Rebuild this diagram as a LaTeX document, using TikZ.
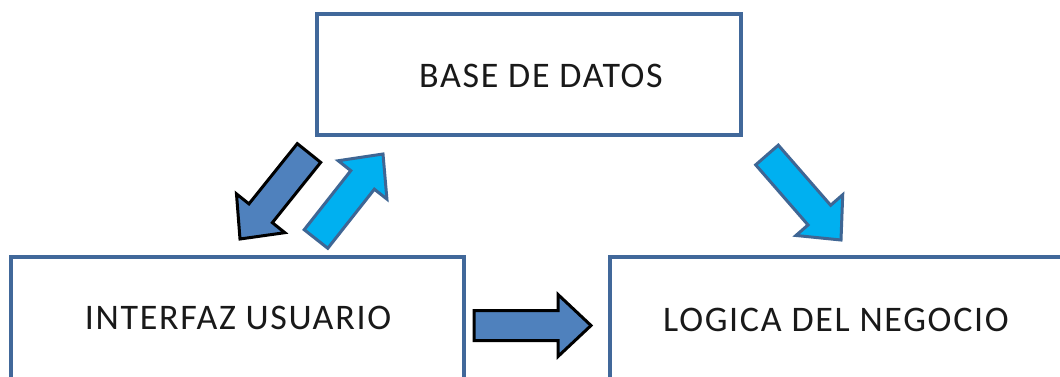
\documentclass[tikz,border=0pt]{standalone}
\usepackage{fontspec}
\setmainfont{Carlito}
\newfontfamily\lblfont[LetterSpace=4.7]{Carlito}
\usetikzlibrary{calc}
\definecolor{boxline}{HTML}{41689A}
\definecolor{darkfill}{HTML}{4F81BD}
\definecolor{lightfill}{HTML}{00B0F0}
\definecolor{lightline}{HTML}{3F6694}
\tikzset{
  box/.style={draw=boxline, line width=4pt, fill=white},
  label/.style={font=\lblfont\fontsize{36}{40}\selectfont, text=black!90, inner sep=0pt},
  darkarrow/.style={fill=darkfill, draw=black, line width=3pt, line join=miter},
  lightarrow/.style={fill=lightfill, draw=lightline, line width=3pt, line join=miter},
}
\newcommand\blockarrow[3]{%
  \coordinate (#2h) at ($(#3)!33pt!(#2)$);
  \draw[#1] ($(#2)!15pt!90:(#3)$) -- ($(#2h)!15pt!90:(#3)$) -- ($(#2h)!31pt!90:(#3)$) -- (#3)
    -- ($(#2h)!31pt!-90:(#3)$) -- ($(#2h)!15pt!-90:(#3)$) -- ($(#2)!15pt!-90:(#3)$) -- cycle;}
\begin{document}
\begin{tikzpicture}[x=1pt,y=-1pt]
\clip (0,0) rectangle (1060,376);
\fill[white] (0,0) rectangle (1060,376);
% boxes
\draw[box] (317,14) rectangle (741,135);
\draw[box] (11,257) rectangle (464,400);
\draw[box] (610,257) rectangle (1080,400);
\node[label] (bd) at (541,76) {BASE DE DATOS};
\node[label] (iu) at (238,318) {INTERFAZ USUARIO};
\node[label] (ln) at (836,320) {LOGICA DEL NEGOCIO};
% arrow end points
\coordinate (a1) at (309,153);
\coordinate (b1) at (240,239);
\coordinate (a2) at (316,239);
\coordinate (b2) at (383,154);
\coordinate (a3) at (767,155);
\coordinate (b3) at (841,240);
\coordinate (a4) at (474,325.5);
\coordinate (b4) at (591,325.5);
\blockarrow{darkarrow}{a1}{b1}
\blockarrow{lightarrow}{a2}{b2}
\blockarrow{lightarrow}{a3}{b3}
\blockarrow{darkarrow}{a4}{b4}
\end{tikzpicture}
\end{document}
